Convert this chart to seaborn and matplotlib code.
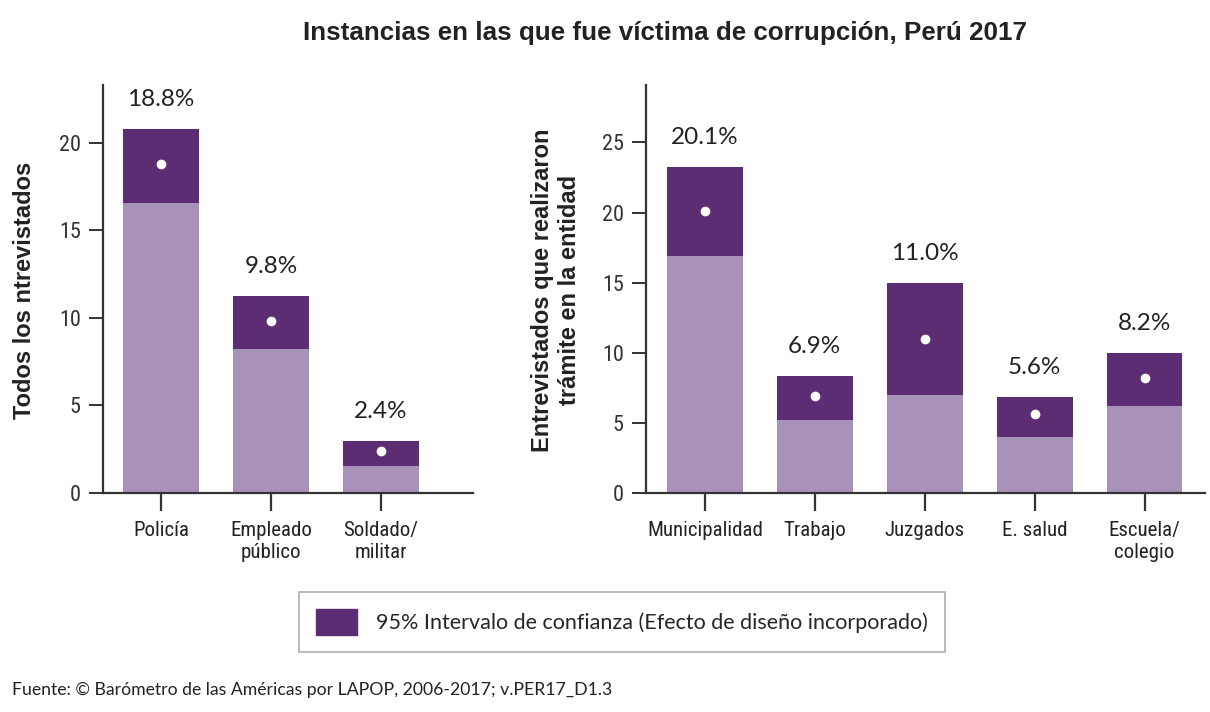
import matplotlib.pyplot as plt
import matplotlib.font_manager as fm
import seaborn as sns
import pandas as pd
from matplotlib.patches import Patch

# left panel: all respondents
cat_all = ["Policía", "Empleado\npúblico", "Soldado/\nmilitar"]
est_all = [18.8, 9.8, 2.4]
low_all = [16.55, 8.25, 1.55]
upp_all = [20.8, 11.27, 2.97]

# right panel: respondents who did paperwork in the entity
cat_ent = ["Municipalidad", "Trabajo", "Juzgados", "E. salud", "Escuela/\ncolegio"]
est_ent = [20.1, 6.9, 11.0, 5.6, 8.2]
low_ent = [16.88, 5.21, 7.02, 3.98, 6.17]
upp_ent = [23.26, 8.38, 14.98, 6.88, 10.02]

dark = "#5C2D73"
light = "#A892BA"
axis_col = "#333333"

sns.set_style("white")
plt.rcParams["font.family"] = ["Liberation Sans", "DejaVu Sans"]


def narrow_font():
    # tick labels in the original are set in a condensed face
    fonts = fm.fontManager.ttflist
    names = {f.name for f in fonts}
    for n in ["Liberation Sans Narrow", "Roboto Condensed", "Open Sans Condensed",
              "Noto Sans Condensed", "Arial Narrow"]:
        if n in names:
            return dict(family=n), 15
    for f in fonts:
        if f.name in ("DejaVu Sans", "Noto Sans", "Open Sans", "Roboto") and \
                str(f.stretch) in ("condensed", "semi-condensed", "extra-condensed"):
            return dict(family=f.name, stretch=f.stretch, weight="normal"), 13.5
    return dict(family="Liberation Sans"), 13.0


nprops, nsize = narrow_font()

fig = plt.figure(figsize=(12.1, 7.12), dpi=100)
ax1 = fig.add_axes([103 / 1210, 1 - 493 / 712, 370 / 1210, 408 / 712])
ax2 = fig.add_axes([646 / 1210, 1 - 493 / 712, 559 / 1210, 408 / 712])

panels = [
    (ax1, cat_all, est_all, low_all, upp_all, (-0.53, 2.84), 23.3, [0, 5, 10, 15, 20],
     "Todos los ntrevistados", 36),
    (ax2, cat_ent, est_ent, low_ent, upp_ent, (-0.536, 4.55), 29.1, [0, 5, 10, 15, 20, 25],
     "Entrevistados que realizaron\ntrámite en la entidad", 581),
]

for ax, cats, est, low, upp, xl, ytop, yt, ylab, ylab_x in panels:
    df = pd.DataFrame({"cat": cats, "est": est, "low": low, "upp": upp})
    sns.barplot(data=df, x="cat", y="upp", color=dark, saturation=1, width=0.69,
                linewidth=0, ax=ax)
    sns.barplot(data=df, x="cat", y="low", color=light, saturation=1, width=0.69,
                linewidth=0, ax=ax)
    sns.stripplot(data=df, x="cat", y="est", color="white", size=7, jitter=False,
                  linewidth=0, ax=ax, zorder=5)
    for i, (e, u) in enumerate(zip(est, upp)):
        ax.annotate(f"{e:.1f}%", (i, u), xytext=(0, 21), textcoords="offset points",
                    ha="center", va="center", fontsize=17.5, color="#222222",
                    family=["Lato", "DejaVu Sans"])
    ax.set_xlim(*xl)
    ax.set_ylim(0, ytop)
    ax.set_yticks(yt)
    ax.set_xlabel("")
    ax.set_ylabel(ylab, fontsize=17, fontweight="bold", color="#222222")
    # label anchor given in pixels (right edge of the rotated label)
    ax.yaxis.set_label_coords(ylab_x / 1210, 1 - 290 / 712, transform=fig.transFigure)
    for s in ["top", "right"]:
        ax.spines[s].set_visible(False)
    for s in ["left", "bottom"]:
        ax.spines[s].set_color(axis_col)
        ax.spines[s].set_linewidth(1.6)
    ax.tick_params(axis="y", direction="out", length=10, width=1.4, color=axis_col,
                   labelcolor="#333333", pad=6, left=True)
    ax.tick_params(axis="x", direction="out", length=13, width=1.6, color=axis_col,
                   labelcolor="#222222", pad=7, bottom=True)
    for t in ax.get_xticklabels():
        t.set(**nprops)
        t.set_fontsize(nsize)
    for t in ax.get_yticklabels():
        t.set(**nprops)
        t.set_fontsize(nsize + 1)

fig.text(665 / 1210, 1 - 33 / 712, "Instancias en las que fue víctima de corrupción, Perú 2017",
         ha="center", va="center", fontsize=18.7, fontweight="bold", color="#222222")

leg = fig.legend(handles=[Patch(facecolor=dark, edgecolor=dark,
                                label="95% Intervalo de confianza (Efecto de diseño incorporado)")],
                 loc="center", bbox_to_anchor=(622 / 1210, 1 - 622 / 712), frameon=True,
                 fancybox=False, edgecolor="#9a9a9a", handlelength=1.9, handleheight=1.5,
                 handletextpad=0.9, borderpad=0.8,
                 prop={"family": ["Lato", "DejaVu Sans"], "size": 15.5})
leg.get_frame().set_linewidth(1.2)

fig.text(12 / 1210, 1 - 690 / 712,
         "Fuente: © Barómetro de las Américas por LAPOP, 2006-2017; v.PER17_D1.3",
         ha="left", va="center", fontsize=12.7, color="#222222", family=["Lato", "DejaVu Sans"])

fig.savefig("out.png", dpi=100)
